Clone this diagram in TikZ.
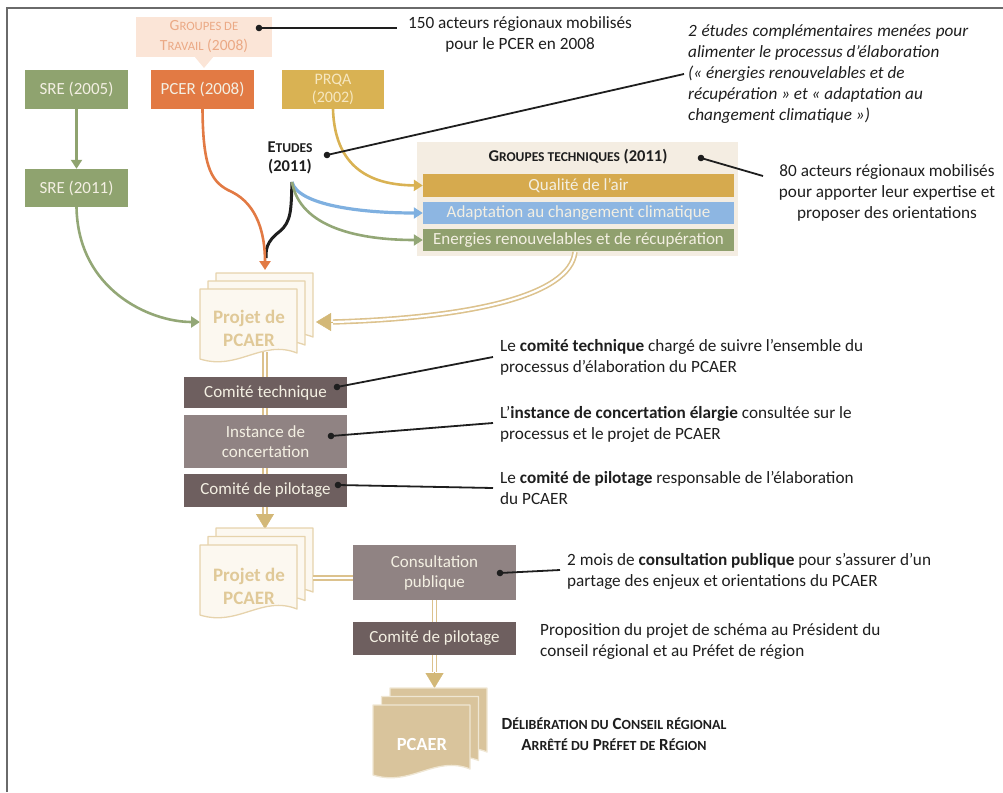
\documentclass[tikz,border=0pt]{standalone}
\usepackage{fontspec}
\setmainfont{Carlito}
\usetikzlibrary{arrows.meta}

\definecolor{frameC}{HTML}{6A6A6A}
\definecolor{sreG}{HTML}{8FA36F}
\definecolor{pcerO}{HTML}{E27A44}
\definecolor{prqaY}{HTML}{D9B253}
\definecolor{airY}{HTML}{D6AA4E}
\definecolor{adaB}{HTML}{8DB6E2}
\definecolor{enrG}{HTML}{90A06E}
\definecolor{gtBg}{HTML}{F4EDE2}
\definecolor{darkB}{HTML}{6E5F5F}
\definecolor{midB}{HTML}{908383}
\definecolor{boxTxt}{HTML}{F3EFE2}
\definecolor{prqaTxt}{HTML}{F6E7C0}
\definecolor{calFill}{HTML}{FBE5D7}
\definecolor{calTxt}{HTML}{EBA985}
\definecolor{pageLine}{HTML}{E6D3AC}
\definecolor{pageFill}{HTML}{FCF8F0}
\definecolor{pageTxt}{HTML}{E0C998}
\definecolor{docFill}{HTML}{D9C49C}
\definecolor{docLine}{HTML}{EFE6D3}
\definecolor{flowB}{HTML}{DCC28D}
\definecolor{tipB}{HTML}{D3B877}
\definecolor{lineG}{HTML}{93A776}
\definecolor{lineBl}{HTML}{7FB0E0}
\definecolor{ink}{HTML}{1E1E1E}

% fake small capitals: the letters are set in smaller upper case
\makeatletter
\newdimen\scdim
\newcommand\lsc[1]{{\scdim=\f@size pt\scdim=0.82\scdim\fontsize{\strip@pt\scdim}{\strip@pt\scdim}\selectfont #1}}
\makeatother
\newcommand\bxfont{\fontsize{17}{20}\selectfont}
\newcommand\ntfont{\fontsize{17.2}{21}\selectfont}

\tikzset{
  box/.style={rectangle, inner sep=0pt, align=center, text=boxTxt, font=\bxfont},
  note/.style={inner sep=0pt, align=left, text=ink, font=\ntfont},
  lead/.style={draw=ink, line width=1.8pt},
  leaddot/.style={fill=ink},
  tipA/.style={-{Triangle[width=11pt,length=9pt]}},
  flowline/.style={draw=flowB, line width=1.6pt, double=white, double distance=2.2pt},
  flowtip/.style={draw=tipB, line width=0.4pt, -{Triangle[width=18pt,length=15pt]}},
  pics/page/.style args={#1/#2}{code={
    \filldraw[fill=#1, draw=#2, line width=1.3pt, line join=round]
      (0,0) -- (97,0) -- (97,64)
      .. controls (62,50) and (38,82) .. (0,70) -- cycle;
  }},
}

\begin{document}
\begin{tikzpicture}[x=1pt,y=-1pt]
\useasboundingbox (0,0) rectangle (1003,792);

% frame
\draw[frameC, line width=2pt] (7,792) -- (7,8) -- (1003,8);

% ---- working groups callout
\fill[calFill] (194,56) -- (204,68) -- (214,56) -- cycle;
\node[rectangle, fill=calFill, inner sep=0pt, minimum width=136, minimum height=40,
      align=center, text=calTxt, font=\fontsize{15.5}{20}\selectfont] (gdt) at (204,37)
      {G\lsc{ROUPES DE}\\T\lsc{RAVAIL} (2008)};

% ---- source plans
\node[box, fill=sreG, minimum width=103, minimum height=39] (sre05) at (76.5,89.5) {SRE (2005)};
\node[box, fill=pcerO, minimum width=103, minimum height=39] (pcer) at (202.5,89.5) {PCER (2008)};
\node[box, fill=prqaY, minimum width=102, minimum height=39, text=prqaTxt,
      font=\fontsize{16}{18.5}\selectfont] (prqa) at (333,89.5) {PRQA\\(2002)};
\node[box, fill=sreG, minimum width=103, minimum height=38] (sre11) at (76.5,188) {SRE (2011)};

\node[inner sep=0pt, align=center, text=ink, font=\bfseries\fontsize{16.5}{19}\selectfont]
      (etudes) at (290,158) {E\lsc{TUDES}\\(2011)};

% ---- technical groups
\node[rectangle, fill=gtBg, inner sep=0pt, minimum width=321, minimum height=114] (gt) at (577.5,199) {};
\node[inner sep=0pt, text=ink, font=\bfseries\fontsize{16.5}{18}\selectfont] (gtt) at (578,157)
      {G\lsc{ROUPES TECHNIQUES} (2011)};
\node[box, fill=airY, minimum width=311, minimum height=22.5] (qual) at (578.5,185.5) {Qualité de l'air};
\node[box, fill=adaB, minimum width=311, minimum height=22.5] (adap) at (578.5,213) {Adaptation au changement climatique};
\node[box, fill=enrG, minimum width=311, minimum height=22.5] (ener) at (578.5,240)
      {Energies renouvelables et de récupération};

% ---- connectors between plans
\coordinate (eb) at (292,182);
\coordinate (in1) at (200,322);
\coordinate (in2) at (265,270);
\coordinate (kend) at (266,258);
\draw[sreG, line width=2.6pt, tipA] (sre05) -- (sre11);
\draw[lineG, line width=2.6pt, tipA] (sre11.south) .. controls (78,290) and (150,322) .. (in1);
\draw[ink, line width=3pt] (eb) .. controls (291,208) and (292,222) .. (279,232)
      .. controls (266,242) and (266,250) .. (kend);
\draw[pcerO, line width=2.6pt, tipA] (pcer.south) .. controls (203,170) and (212,183) .. (232,192)
      .. controls (258,205) and (265,235) .. (in2);
\draw[prqaY, line width=2.6pt, tipA] (prqa.south) .. controls (335,175) and (380,185) .. (qual.west);
\draw[lineBl, line width=3.2pt, tipA] (eb) .. controls (298,205) and (360,213) .. (adap.west);
\draw[lineG, line width=2.6pt, tipA] (eb) .. controls (300,228) and (360,240) .. (ener.west);

% ---- draft document (1)
\pic at (216,273) {page=pageFill/pageLine};
\pic at (208,281) {page=pageFill/pageLine};
\pic at (200,289) {page=pageFill/pageLine};
\node[inner sep=0pt, align=center, text=pageTxt, font=\bfseries\fontsize{19}{23}\selectfont]
      (doc1) at (249,328.5) {Projet de\\PCAER};

% feedback from the technical groups
\coordinate (gtb) at (575,252);
\coordinate (fb) at (333,322);
\coordinate (fbtip) at (316,322);
\draw[flowline] (gtb) .. controls (570,296) and (470,318) .. (fb);
\draw[flowtip] (fb) -- (fbtip);

% main trunk through the committees
\coordinate (t1a) at (265,352);
\coordinate (t1b) at (265,514);
\coordinate (t1tip) at (265,529);
\draw[flowline] (t1a) -- (t1b);
\draw[flowtip] (t1b) -- (t1tip);

\node[box, fill=darkB, minimum width=163, minimum height=31] (ct) at (265.5,392.5) {Comité technique};
\node[box, fill=midB, minimum width=163, minimum height=53] (ic) at (265.5,441.5) {Instance de\\concertation};
\node[box, fill=darkB, minimum width=163, minimum height=33] (cp) at (265.5,490.5) {Comité de pilotage};

% ---- draft document (2)
\pic at (216,528) {page=pageFill/pageLine};
\pic at (208,536.5) {page=pageFill/pageLine};
\pic at (200,545) {page=pageFill/pageLine};
\node[inner sep=0pt, align=center, text=pageTxt, font=\bfseries\fontsize{19}{23}\selectfont]
      (doc2) at (249,586) {Projet de\\PCAER};

\coordinate (t2a) at (313,578);
\coordinate (t2b) at (353,578);
\draw[flowline] (t2a) -- (t2b);

\node[box, fill=midB, minimum width=163, minimum height=55] (cons) at (434.5,572.5) {Consultation\\publique};
\node[box, fill=darkB, minimum width=163, minimum height=33] (cp2) at (434.5,638.5) {Comité de pilotage};

\coordinate (t3b) at (434.5,672);
\coordinate (t3tip) at (434.5,688);
\draw[flowline] (cons.south) -- (cp2.north);
\draw[flowline] (cp2.south) -- (t3b);
\draw[flowtip] (t3b) -- (t3tip);

% ---- final document
\pic at (390,688) {page=docFill/docLine};
\pic at (381.5,696.5) {page=docFill/docLine};
\pic at (373,705) {page=docFill/docLine};
\node[inner sep=0pt, text=white, font=\bfseries\fontsize{18.5}{22}\selectfont] (doc3) at (422,744) {PCAER};

% ---- annotations
\node[note, align=center] (n150) at (520,34) {150 acteurs régionaux mobilisés\\pour le PCER en 2008};
\node[note, anchor=west, font=\itshape\ntfont] (netu) at (688,74)
      {\makebox[280pt][s]{2 études complémentaires menées pour}\\alimenter le processus d’élaboration\\(« énergies renouvelables et de\\récupération » et « adaptation au\\changement climatique »)};
\node[note, align=center] (n80) at (887,193) {80 acteurs régionaux mobilisés\\pour apporter leur expertise et\\proposer des orientations};
\node[note, anchor=west] (nct) at (500,357) {Le \textbf{comité technique} chargé de suivre l’ensemble du\\processus d’élaboration du PCAER};
\node[note, anchor=west] (nic) at (500,424) {L’\textbf{instance de concertation élargie} consultée sur le\\processus et le projet de PCAER};
\node[note, anchor=west] (ncp) at (500,488) {Le \textbf{comité de pilotage} responsable de l’élaboration\\du PCAER};
\node[note, anchor=west] (ncons) at (567,571) {2 mois de \textbf{consultation publique} pour s’assurer d’un\\partage des enjeux et orientations du PCAER};
\node[note, anchor=west] (nprop) at (540,641) {Proposition du projet de schéma au Président du\\conseil régional et au Préfet de région};
\node[note, align=center, font=\bfseries\fontsize{17}{21}\selectfont] (ndel) at (614,734)
      {D\lsc{ÉLIBÉRATION DU} C\lsc{ONSEIL RÉGIONAL}\\A\lsc{RRÊTÉ DU} P\lsc{RÉFET DE} R\lsc{ÉGION}};

% ---- leader lines
\coordinate (dA) at (259,28);  \coordinate (eA) at (397,28);
\coordinate (dB) at (327,155); \coordinate (eB) at (684,74);
\coordinate (dC) at (701,158); \coordinate (eC) at (763,176);
\coordinate (dD) at (337,387); \coordinate (eD) at (493,357);
\coordinate (dE) at (331,436); \coordinate (eE) at (493,423);
\coordinate (dF) at (338,485); \coordinate (eF) at (493,488);
\coordinate (dG) at (500,573); \coordinate (eG) at (560,570);
\foreach \s/\e in {dA/eA,dB/eB,dC/eC,dD/eD,dE/eE,dF/eF,dG/eG}{
  \draw[lead] (\s) -- (\e);
  \fill[leaddot] (\s) circle (3.3);
}
\end{tikzpicture}
\end{document}
